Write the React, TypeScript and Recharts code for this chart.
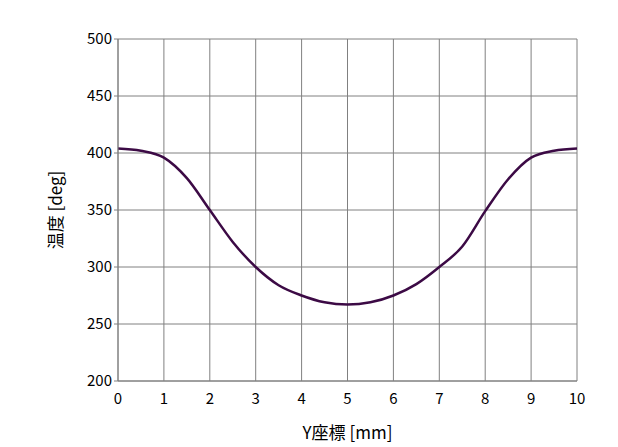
import React from "react";
import { LineChart, Line, XAxis, YAxis, CartesianGrid } from "recharts";

const positions = [0, 0.5, 1, 1.5, 2, 2.5, 3, 3.5, 4, 4.5, 5, 5.5, 6, 6.5, 7, 7.5, 8, 8.5, 9, 9.5, 10];
const temperatures = [404, 402, 396, 378, 350, 322, 300, 284, 275, 269, 267, 269, 275, 285, 300, 318, 349, 377, 396, 402, 404];
const xTicks = [0, 1, 2, 3, 4, 5, 6, 7, 8, 9, 10];
const yTicks = [200, 250, 300, 350, 400, 450, 500];

const data = positions.map((x, i) => ({ x, t: temperatures[i] }));

const font = "'Noto Sans CJK JP', 'Noto Sans', sans-serif";

export default function App() {
  return (
    <div style={{ position: "absolute", left: 0, top: 0, background: "#fff" }}>
      <LineChart width={618} height={447} data={data} margin={{ top: 39, right: 41, bottom: 36, left: 58 }}>
        <CartesianGrid stroke="#808080" strokeWidth={1} />
        <XAxis
          dataKey="x"
          type="number"
          domain={[0, 10]}
          ticks={xTicks}
          height={30}
          axisLine={{ stroke: "#808080" }}
          tickLine={false}
          tick={{ fill: "#000", fontSize: 15, fontFamily: font }}
          tickMargin={6}
          label={{ value: "Y座標 [mm]", position: "bottom", offset: 16, fill: "#000", fontSize: 17, fontFamily: font }}
        />
        <YAxis
          type="number"
          domain={[200, 500]}
          ticks={yTicks}
          width={60}
          axisLine={{ stroke: "#808080" }}
          tickLine={{ stroke: "#808080" }}
          tickSize={4}
          tick={{ fill: "#000", fontSize: 15, fontFamily: font }}
          label={{ value: "温度 [deg]", angle: -90, position: "insideLeft", offset: -2, fill: "#000", fontSize: 17, fontFamily: font, style: { textAnchor: "middle" } }}
        />
        <Line dataKey="t" type="monotone" stroke="#3c0a45" strokeWidth={2.5} dot={false} isAnimationActive={false} />
      </LineChart>
    </div>
  );
}
